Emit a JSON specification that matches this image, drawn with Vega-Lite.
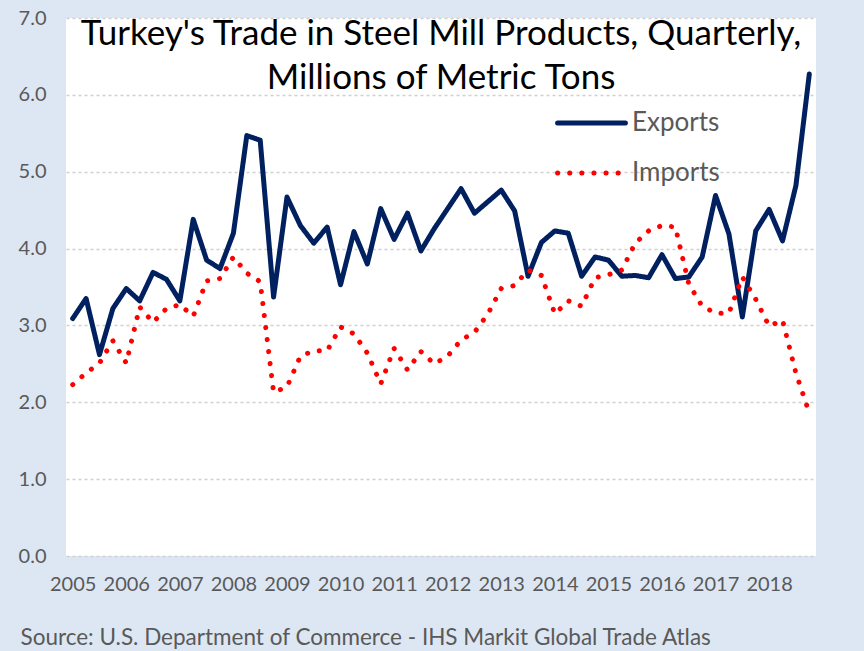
{
  "$schema": "https://vega.github.io/schema/vega-lite/v6.json",
  "width": 750,
  "height": 538,
  "autosize": {"type": "none"},
  "padding": {"left": 66, "top": 18, "right": 48, "bottom": 95},
  "background": "#DDE7F3",
  "config": {
    "font": "Lato",
    "view": {"fill": "white", "stroke": null}
  },
  "title": {
    "text": ["Turkey's Trade in Steel Mill Products, Quarterly,", "Millions of Metric Tons"],
    "font": "Lato",
    "fontSize": 35,
    "fontWeight": "normal",
    "color": "#000000",
    "anchor": "middle",
    "baseline": "top",
    "lineHeight": 44,
    "offset": -88
  },
  "data": {
    "values": [
      {"period": "2005 Q1", "Exports": 3.09, "Imports": 2.23},
      {"period": "2005 Q2", "Exports": 3.35, "Imports": 2.38},
      {"period": "2005 Q3", "Exports": 2.62, "Imports": 2.51},
      {"period": "2005 Q4", "Exports": 3.22, "Imports": 2.80},
      {"period": "2006 Q1", "Exports": 3.48, "Imports": 2.51},
      {"period": "2006 Q2", "Exports": 3.32, "Imports": 3.24},
      {"period": "2006 Q3", "Exports": 3.69, "Imports": 3.04},
      {"period": "2006 Q4", "Exports": 3.60, "Imports": 3.22},
      {"period": "2007 Q1", "Exports": 3.32, "Imports": 3.27},
      {"period": "2007 Q2", "Exports": 4.38, "Imports": 3.12},
      {"period": "2007 Q3", "Exports": 3.85, "Imports": 3.58},
      {"period": "2007 Q4", "Exports": 3.74, "Imports": 3.61},
      {"period": "2008 Q1", "Exports": 4.20, "Imports": 3.89},
      {"period": "2008 Q2", "Exports": 5.47, "Imports": 3.68},
      {"period": "2008 Q3", "Exports": 5.41, "Imports": 3.57},
      {"period": "2008 Q4", "Exports": 3.37, "Imports": 2.13},
      {"period": "2009 Q1", "Exports": 4.67, "Imports": 2.20},
      {"period": "2009 Q2", "Exports": 4.30, "Imports": 2.60},
      {"period": "2009 Q3", "Exports": 4.07, "Imports": 2.67},
      {"period": "2009 Q4", "Exports": 4.28, "Imports": 2.67},
      {"period": "2010 Q1", "Exports": 3.53, "Imports": 2.98},
      {"period": "2010 Q2", "Exports": 4.22, "Imports": 2.89},
      {"period": "2010 Q3", "Exports": 3.80, "Imports": 2.64},
      {"period": "2010 Q4", "Exports": 4.52, "Imports": 2.24},
      {"period": "2011 Q1", "Exports": 4.12, "Imports": 2.70},
      {"period": "2011 Q2", "Exports": 4.46, "Imports": 2.42},
      {"period": "2011 Q3", "Exports": 3.97, "Imports": 2.66},
      {"period": "2011 Q4", "Exports": 4.26, "Imports": 2.50},
      {"period": "2012 Q1", "Exports": 4.52, "Imports": 2.60},
      {"period": "2012 Q2", "Exports": 4.78, "Imports": 2.81},
      {"period": "2012 Q3", "Exports": 4.46, "Imports": 2.91},
      {"period": "2012 Q4", "Exports": 4.61, "Imports": 3.15},
      {"period": "2013 Q1", "Exports": 4.76, "Imports": 3.48},
      {"period": "2013 Q2", "Exports": 4.49, "Imports": 3.52},
      {"period": "2013 Q3", "Exports": 3.64, "Imports": 3.72},
      {"period": "2013 Q4", "Exports": 4.08, "Imports": 3.65},
      {"period": "2014 Q1", "Exports": 4.23, "Imports": 3.15},
      {"period": "2014 Q2", "Exports": 4.20, "Imports": 3.32},
      {"period": "2014 Q3", "Exports": 3.64, "Imports": 3.25},
      {"period": "2014 Q4", "Exports": 3.89, "Imports": 3.62},
      {"period": "2015 Q1", "Exports": 3.85, "Imports": 3.66},
      {"period": "2015 Q2", "Exports": 3.64, "Imports": 3.72},
      {"period": "2015 Q3", "Exports": 3.65, "Imports": 4.07},
      {"period": "2015 Q4", "Exports": 3.62, "Imports": 4.23},
      {"period": "2016 Q1", "Exports": 3.92, "Imports": 4.30},
      {"period": "2016 Q2", "Exports": 3.61, "Imports": 4.28},
      {"period": "2016 Q3", "Exports": 3.63, "Imports": 3.54},
      {"period": "2016 Q4", "Exports": 3.89, "Imports": 3.25},
      {"period": "2017 Q1", "Exports": 4.69, "Imports": 3.16},
      {"period": "2017 Q2", "Exports": 4.19, "Imports": 3.16},
      {"period": "2017 Q3", "Exports": 3.11, "Imports": 3.63},
      {"period": "2017 Q4", "Exports": 4.23, "Imports": 3.34},
      {"period": "2018 Q1", "Exports": 4.51, "Imports": 2.99},
      {"period": "2018 Q2", "Exports": 4.10, "Imports": 3.07},
      {"period": "2018 Q3", "Exports": 4.82, "Imports": 2.38},
      {"period": "2018 Q4", "Exports": 6.27, "Imports": 1.86}
    ]
  },
  "transform": [
    {"fold": ["Exports", "Imports"], "as": ["series", "value"]}
  ],
  "mark": {"type": "line", "strokeWidth": 5, "strokeCap": "round", "strokeJoin": "round"},
  "encoding": {
    "x": {
      "field": "period",
      "type": "ordinal",
      "scale": {"type": "point", "padding": 0.5},
      "axis": {
        "values": ["2005 Q1","2006 Q1","2007 Q1","2008 Q1","2009 Q1","2010 Q1","2011 Q1","2012 Q1","2013 Q1","2014 Q1","2015 Q1","2016 Q1","2017 Q1","2018 Q1"],
        "labelExpr": "slice(datum.value, 0, 4)",
        "labelAngle": 0,
        "labelFontSize": 20,
        "labelColor": "#595959",
        "labelPadding": 18,
        "ticks": false,
        "domain": false,
        "grid": false,
        "title": "Source: U.S. Department of Commerce -  IHS Markit Global Trade Atlas",
        "titleFontSize": 22.5,
        "titleFontWeight": "normal",
        "titleColor": "#595959",
        "titleAlign": "left",
        "titleBaseline": "alphabetic",
        "titleX": -46,
        "titleY": 88
      }
    },
    "y": {
      "field": "value",
      "type": "quantitative",
      "scale": {"domain": [0, 7], "nice": false},
      "axis": {
        "values": [0, 1, 2, 3, 4, 5, 6, 7],
        "format": ".1f",
        "labelFontSize": 20,
        "labelColor": "#595959",
        "labelPadding": 20,
        "ticks": false,
        "domain": false,
        "gridColor": "#D0D0D0",
        "gridDash": [3, 3],
        "gridWidth": 1.5,
        "title": null
      }
    },
    "color": {
      "field": "series",
      "type": "nominal",
      "scale": {"domain": ["Exports", "Imports"], "range": ["#002060", "#FF0000"]},
      "legend": {
        "title": null,
        "orient": "none",
        "legendX": 489,
        "legendY": 93,
        "symbolType": "stroke",
        "symbolSize": 4600,
        "symbolStrokeWidth": 5,
        "labelFontSize": 26,
        "labelColor": "#595959",
        "labelOffset": 4,
        "clipHeight": 24,
        "rowPadding": 24,
        "encoding": {"symbols": {"strokeCap": {"value": "round"}}}
      }
    },
    "strokeDash": {
      "field": "series",
      "type": "nominal",
      "scale": {"domain": ["Exports", "Imports"], "range": [[1, 0], [0.1, 12]]},
      "legend": null
    }
  }
}
